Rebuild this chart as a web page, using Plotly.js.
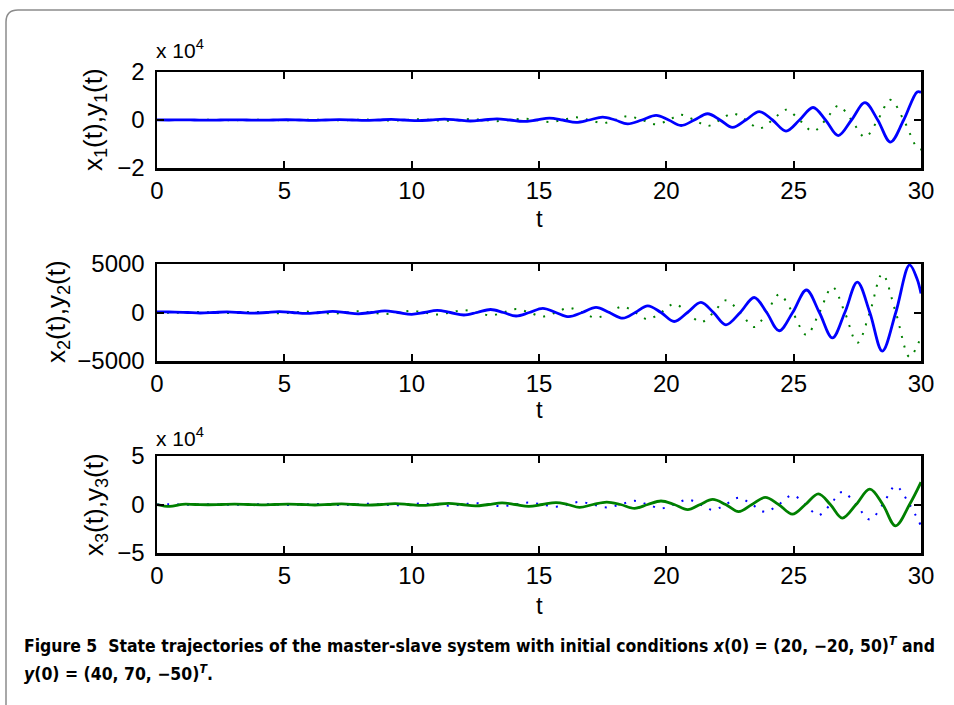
<!DOCTYPE html>
<html><head><meta charset="utf-8">
<script src="https://cdn.plot.ly/plotly-3.0.1.min.js"></script>
<style>html,body{margin:0;padding:0;background:#fff;}#chart{width:954px;height:705px;}</style>
</head><body><div id="chart"></div>
<script>
// ---------- data ----------
// subplot 1: time samples, solid blue y1(t), dotted green x1(t)
const t1 = [0,0.48,0.95,1.47,1.98,2.49,3.0,3.52,4.05,4.56,5.08,5.59,6.1,6.62,7.15,7.66,8.18,8.69,9.2,9.72,10.25,10.76,11.28,11.79,12.3,12.82,13.35,13.86,14.38,14.9,15.41,15.93,16.46,16.98,17.5,17.99,18.48,19.04,19.6,20.09,20.58,21.1,21.62,22.11,22.6,23.12,23.65,24.17,24.7,25.23,25.76,26.25,26.75,27.27,27.8,28.3,28.8,29.32,29.85,30];
const y1 = [40,0,60,0,-70,0,80,0,-90,0,110,0,-130,0,160,0,-190,0,230,0,-280,0,340,0,-420,0,500,0,-600,0,750,0,-1000,0,1200,0,-1600,0,1900,0,-2300,0,2600,0,-3100,0,3500,0,-4600,0,5200,0,-6500,0,7200,0,-9200,0,11700,11500];
const x1 = [20,0,-50,0,60,0,-70,0,80,0,-100,0,120,0,-150,0,180,0,-220,0,270,0,-330,0,400,0,-480,0,580,0,-800,0,1100,0,-1300,0,1600,0,-1800,0,2200,0,-2500,0,2700,0,-3500,0,4300,0,-4700,0,5900,0,-7100,0,8400,0,-11600,-12300];

// subplot 2
const t2 = [0,0.35,0.7,1.2,1.7,2.22,2.75,3.27,3.8,4.3,4.8,5.32,5.85,6.37,6.9,7.4,7.9,8.42,8.95,9.47,10.0,10.5,11.0,11.52,12.05,12.57,13.1,13.6,14.1,14.62,15.15,15.66,16.17,16.7,17.24,17.76,18.29,18.78,19.27,19.79,20.31,20.83,21.36,21.85,22.34,22.9,23.45,23.94,24.43,24.96,25.5,26.01,26.52,27.01,27.5,27.99,28.48,29.01,29.55,29.84,30];
const y2 = [70,55,40,0,-50,0,60,0,-70,0,85,0,-100,0,115,0,-135,0,160,0,-190,0,220,0,-260,0,310,0,-360,0,430,0,-430,0,530,0,-590,0,690,0,-930,0,1040,0,-1270,0,1545,0,-1880,0,2320,0,-2620,0,3130,0,-3980,0,4900,3500,1950];
const x2 = [-20,-30,-35,0,45,0,-55,0,65,0,-80,0,95,0,-110,0,130,0,-150,0,180,0,-210,0,250,0,-300,0,350,0,-420,0,480,0,-540,0,620,0,-700,0,880,0,-1000,0,1250,0,-1500,0,1850,0,-2300,0,2620,0,-3130,0,3980,0,-4600,-3500,-2400];

// subplot 3: solid green x3(t), dotted blue y3(t)
const t3 = [0,0.5,1.0,1.5,2.0,2.52,3.05,3.57,4.1,4.62,5.15,5.67,6.2,6.72,7.25,7.77,8.3,8.82,9.35,9.87,10.4,10.92,11.45,11.97,12.5,13.02,13.55,14.07,14.6,15.13,15.67,16.13,16.59,17.12,17.66,18.2,18.75,19.27,19.79,20.31,20.84,21.33,21.82,22.33,22.84,23.36,23.88,24.41,24.95,25.46,25.97,26.44,26.91,27.45,27.99,28.5,29.0,29.55,30];
const x3 = [-50,-2000,200,0,-250,0,300,0,-350,0,400,0,-500,0,600,0,-700,0,800,0,-1000,0,1200,0,-1400,0,1700,0,-2000,0,2000,0,-3000,0,2500,0,-4000,0,3600,0,-5300,0,5200,0,-7400,0,7300,0,-10000,0,11000,0,-14000,0,15800,0,-22000,0,23000];
const y3 = [50,300,-200,0,250,0,-300,0,350,0,-400,0,500,0,-600,0,700,0,-800,0,1000,0,-1200,0,1400,0,-1700,0,2000,0,-2200,0,2700,0,-3000,0,3800,0,-4000,0,5000,0,-5600,0,7000,0,-7600,0,9500,0,-11000,0,13000,0,-15500,0,19000,0,-22000];

const xTicks = [0,5,10,15,20,25,30];
const y1Ticks = [-20000,0,20000], y1TickText = ['\u22122','0','2'];
const y2Ticks = [-5000,0,5000], y2TickText = ['\u22125000','0','5000'];
const y3Ticks = [-50000,0,50000], y3TickText = ['\u22125','0','5'];

// ---------- layout ----------
const W = 954, H = 705;
const px = v => v / W;
const py = v => 1 - v / H;
const FONT = 'Liberation Sans, Arial, Helvetica, sans-serif';
const blue = '#0000ff', green = '#008000';

function pickFont(cands){
  const c = document.createElement('canvas').getContext('2d');
  const s = 'Figure 5 State trajectories mmmwwwiiilll 0123';
  c.font = 'bold 20px monospace'; const b1 = c.measureText(s).width;
  c.font = 'bold 20px serif'; const b2 = c.measureText(s).width;
  for (const f of cands){
    c.font = `bold 20px "${f}", monospace`; const w1 = c.measureText(s).width;
    c.font = `bold 20px "${f}", serif`; const w2 = c.measureText(s).width;
    if (w1 !== b1 || w2 !== b2) return f;
  }
  return 'Liberation Sans';
}
const capFont = pickFont(['Liberation Sans Narrow','DejaVu Sans Condensed','Roboto Condensed','Open Sans Condensed','Liberation Sans']);
const cap1Plain = 'Figure 5  State trajectories of the master-slave system with initial conditions x(0) = (20, \u221220, 50)T and';
let capSize = 19;
(function(){
  const c = document.createElement('canvas').getContext('2d');
  c.font = `bold 20px "${capFont}"`;
  const w = c.measureText(cap1Plain).width;
  capSize = Math.min(20, 20 * 915 / w);
})();

const TF = 24;
function xAxis(anchor){
  return {domain:[px(157), px(921)], anchor:anchor, range:[0,30], tickvals:xTicks,
    ticktext:xTicks.map(String), ticks:'inside', ticklen:7, tickwidth:2, tickcolor:'#000',
    showline:true, linewidth:2.5, linecolor:'#000', mirror:'ticks', showgrid:false, zeroline:false,
    tickfont:{family:FONT, size:TF, color:'#000'}, ticklabelstandoff:0, fixedrange:true};
}
function yAxis(anchor, top, bottom, range, tv, tt){
  return {domain:[py(bottom), py(top)], anchor:anchor, range:range, tickvals:tv, ticktext:tt,
    ticks:'inside', ticklen:7, tickwidth:2, tickcolor:'#000',
    showline:true, linewidth:2.5, linecolor:'#000', mirror:'ticks', showgrid:false, zeroline:false,
    tickfont:{family:FONT, size:TF, color:'#000'}, ticklabelstandoff:5, fixedrange:true};
}

const dotted = c => ({color:c, width:2, dash:'2px,8px', shape:'spline'});
const solid = c => ({color:c, width:2.8, shape:'spline'});

const traces = [
  {x:t1, y:x1, xaxis:'x', yaxis:'y', mode:'lines', line:dotted(green), name:'x1'},
  {x:t1, y:y1, xaxis:'x', yaxis:'y', mode:'lines', line:solid(blue), name:'y1'},
  {x:t2, y:x2, xaxis:'x2', yaxis:'y2', mode:'lines', line:dotted(green), name:'x2'},
  {x:t2, y:y2, xaxis:'x2', yaxis:'y2', mode:'lines', line:solid(blue), name:'y2'},
  {x:t3, y:y3, xaxis:'x3', yaxis:'y3', mode:'lines', line:dotted(blue), name:'y3'},
  {x:t3, y:x3, xaxis:'x3', yaxis:'y3', mode:'lines', line:solid(green), name:'x3'}
];

const ann = (text, x, y, opts) => Object.assign({text, x:px(x), y:py(y), xref:'paper', yref:'paper',
  showarrow:false, xanchor:'center', yanchor:'middle', font:{family:FONT, size:TF, color:'#000'}}, opts||{});

const annotations = [
  ann('x 10<sup>4</sup>', 154, 49, {xanchor:'left', font:{family:FONT, size:21, color:'#000'}}),
  ann('x 10<sup>4</sup>', 154, 437, {xanchor:'left', font:{family:FONT, size:21, color:'#000'}}),
  ann('t', 539, 218), ann('t', 539, 410), ann('t', 539, 605),
  ann('x<sub>1</sub>(t),y<sub>1</sub>(t)', 94, 120, {textangle:-90, font:{family:FONT, size:26, color:'#000'}}),
  ann('x<sub>2</sub>(t),y<sub>2</sub>(t)', 57, 312, {textangle:-90, font:{family:FONT, size:26, color:'#000'}}),
  ann('x<sub>3</sub>(t),y<sub>3</sub>(t)', 95, 505, {textangle:-90, font:{family:FONT, size:26, color:'#000'}}),
  ann('Figure 5\u00a0\u00a0State trajectories of the master-slave system with initial conditions <i>x</i>(0) = (20, \u221220, 50)<sup><i>T</i></sup> and',
      22, 645, {xanchor:'left', font:{family:capFont, size:capSize, color:'#000', weight:700}}),
  ann('<i>y</i>(0) = (40, 70, \u221250)<sup><i>T</i></sup>.',
      22, 673, {xanchor:'left', font:{family:capFont, size:capSize, color:'#000', weight:700}})
];

const border = {type:'path', xref:'paper', yref:'paper', layer:'below',
  path:`M ${px(6)},${py(720)} L ${px(6)},${py(22)} Q ${px(6)},${py(10)} ${px(18)},${py(10)} L ${px(980)},${py(10)}`,
  line:{color:'#8c8c8c', width:1.5}};

const layout = {
  width:W, height:H, margin:{l:0,r:0,t:0,b:0,pad:0}, showlegend:false,
  paper_bgcolor:'#fff', plot_bgcolor:'#fff',
  xaxis:xAxis('y'), yaxis:yAxis('x', 72, 168, [-20000,20000], y1Ticks, y1TickText),
  xaxis2:xAxis('y2'), yaxis2:yAxis('x2', 264, 361, [-5000,5000], y2Ticks, y2TickText),
  xaxis3:xAxis('y3'), yaxis3:yAxis('x3', 456, 553, [-50000,50000], y3Ticks, y3TickText),
  annotations:annotations, shapes:[border]
};

Plotly.newPlot('chart', traces, layout, {staticPlot:true, displayModeBar:false});
</script>
</body></html>
